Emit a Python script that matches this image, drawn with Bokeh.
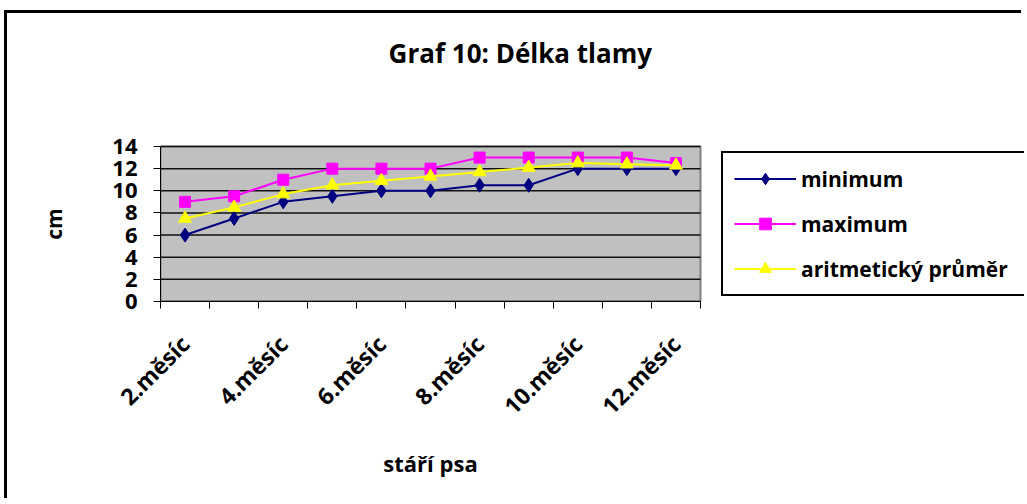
import math
from bokeh.plotting import figure
from bokeh.models import (Range1d, LinearAxis, FixedTicker, Legend, LegendItem, Label)
from bokeh.embed import file_html
from bokeh.resources import INLINE

categories = ["2.měsíc", "3.měsíc", "4.měsíc", "5.měsíc", "6.měsíc", "7.měsíc",
              "8.měsíc", "9.měsíc", "10.měsíc", "11.měsíc", "12.měsíc"]
minimum = [6, 7.5, 9, 9.5, 10, 10, 10.5, 10.5, 12, 12, 12]
maximum = [9, 9.5, 11, 12, 12, 12, 13, 13, 13, 13, 12.5]
prumer = [7.5, 8.5, 9.7, 10.5, 10.9, 11.3, 11.7, 12.1, 12.5, 12.4, 12.3]
y_ticks = [0, 2, 4, 6, 8, 10, 12, 14]
shown_labels = ["2.měsíc", "4.měsíc", "6.měsíc", "8.měsíc", "10.měsíc", "12.měsíc"]
title_text = "Graf 10: Délka tlamy"
x_title = "stáří psa"
y_title = "cm"

FONT = "Open Sans"
n = len(categories)
y_max = 14
xc = [i + 0.5 for i in range(n)]  # category centres on the numeric scale

# layout (pixels): plot area 540 x 155, frame extended to the right/top for legend and title
W, H = 1017, 488
LEFT = 153
AREA_W, AREA_H = 540, 155
TOP_GAP = 288  # from canvas top to the bottom of the plot area
BOTTOM = H - TOP_GAP
frame_w = W - LEFT
frame_h = TOP_GAP

p = figure(width=W, height=H,
           x_range=Range1d(0, n * frame_w / AREA_W),
           y_range=Range1d(0, y_max * frame_h / AREA_H),
           x_axis_location=None, y_axis_location="left",
           output_backend="svg", toolbar_location=None,
           min_border_left=LEFT, min_border_right=0,
           min_border_top=0, min_border_bottom=BOTTOM,
           styles={"box-shadow": "-3px -3px 0px 0px black",
                   "margin-left": "7px", "margin-top": "13px"})

p.background_fill_color = "white"
p.border_fill_color = "white"
p.outline_line_color = None
p.xgrid.visible = False
p.ygrid.visible = False

# plot area
p.quad(left=[0], right=[n], bottom=[0], top=[y_max],
       fill_color="#C0C0C0", line_color="#808080", line_width=2)
p.segment(x0=[0] * len(y_ticks), x1=[n] * len(y_ticks), y0=y_ticks, y1=y_ticks,
          line_color="#111111", line_width=1.5)

# y axis
yax = p.yaxis[0]
yax.bounds = (0, y_max)
yax.ticker = FixedTicker(ticks=y_ticks)
yax.minor_tick_line_color = None
yax.major_tick_out = 7
yax.major_tick_in = 0
yax.axis_line_color = "black"
yax.major_tick_line_color = "black"
yax.major_label_text_font = FONT
yax.major_label_text_font_style = "bold"
yax.major_label_text_font_size = "22px"
yax.major_label_text_color = "black"
yax.major_label_standoff = 16

# y title as a label of an extra axis, centred on the plot area
y_mid = y_max / 2
ytitle_axis = LinearAxis(ticker=FixedTicker(ticks=[y_mid]), bounds=(0, y_max),
                         major_tick_line_color=None, minor_tick_line_color=None,
                         axis_line_color=None,
                         major_label_orientation="vertical",
                         major_label_standoff=36,
                         major_label_overrides={y_mid: y_title},
                         major_label_text_font=FONT,
                         major_label_text_font_style="bold",
                         major_label_text_font_size="21px",
                         major_label_text_color="black")
p.add_layout(ytitle_axis, "left")

# x axis: tick marks between categories
tick_axis = LinearAxis(ticker=FixedTicker(ticks=list(range(n + 1))), bounds=(0, n),
                       major_tick_out=7, major_tick_in=0,
                       minor_tick_line_color=None,
                       axis_line_color="black", major_tick_line_color="black",
                       major_label_text_font_size="0px",
                       major_label_standoff=0,
                       major_label_overrides={i: "" for i in range(n + 1)})
label_ticks = [xc[i] for i, c in enumerate(categories) if c in shown_labels]
cat_axis = LinearAxis(ticker=FixedTicker(ticks=label_ticks), bounds=(0, n),
                      major_tick_line_color=None, minor_tick_line_color=None,
                      axis_line_color=None,
                      major_label_orientation=math.pi / 4,
                      major_label_standoff=25,
                      major_label_text_font=FONT,
                      major_label_text_font_style="bold",
                      major_label_text_font_size="23px",
                      major_label_text_color="black",
                      major_label_overrides={xc[i]: c for i, c in enumerate(categories)})
x_mid = n / 2
xtitle_axis = LinearAxis(ticker=FixedTicker(ticks=[x_mid]), bounds=(0, n),
                         major_tick_line_color=None, minor_tick_line_color=None,
                         axis_line_color=None,
                         major_label_standoff=6,
                         major_label_overrides={x_mid: x_title},
                         major_label_text_font=FONT,
                         major_label_text_font_style="bold",
                         major_label_text_font_size="22px",
                         major_label_text_color="black")
p.below = [tick_axis, cat_axis, xtitle_axis]

# series
l1 = p.line(xc, minimum, line_color="#000080", line_width=2)
m1 = p.scatter(xc, minimum, marker="diamond", size=14, fill_color="#000080", line_color="#000080")
l2 = p.line(xc, maximum, line_color="#FF00FF", line_width=2)
m2 = p.scatter(xc, maximum, marker="square", size=11, fill_color="#FF00FF", line_color="#FF00FF")
l3 = p.line(xc, prumer, line_color="#FFFF00", line_width=2)
m3 = p.scatter(xc, prumer, marker="triangle", size=13, fill_color="#FFFF00", line_color="#FFFF00")

legend = Legend(items=[LegendItem(label="minimum", renderers=[l1, m1]),
                       LegendItem(label="maximum", renderers=[l2, m2]),
                       LegendItem(label="aritmetický průměr", renderers=[l3, m3])],
                location=(561, 5), margin=0,
                border_line_color="black", border_line_width=2, border_line_alpha=1,
                background_fill_color="white", background_fill_alpha=1,
                padding=11, spacing=16, label_height=29, glyph_height=29,
                glyph_width=62, label_standoff=5, label_width=240,
                label_text_font=FONT, label_text_font_style="bold",
                label_text_font_size="21px", label_text_color="black")
p.add_layout(legend, "center")

title = Label(x=7.33, y=22.47, text=title_text,
              text_align="center", text_baseline="middle",
              text_font=FONT, text_font_style="bold", text_font_size="26px",
              text_color="black")
p.add_layout(title)

open("out.html", "w").write(file_html(p, INLINE))
